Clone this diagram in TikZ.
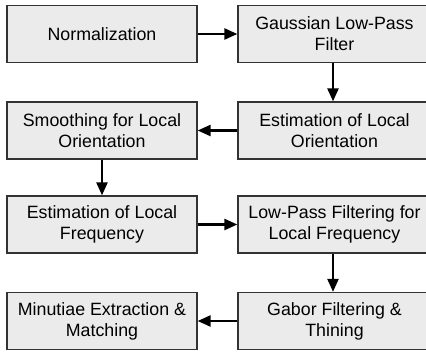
\documentclass[tikz,border=0pt]{standalone}
\usepackage{fontspec}
\setmainfont{Liberation Sans}
\usetikzlibrary{arrows.meta}
\begin{document}
\begin{tikzpicture}[x=1pt,y=1pt,
  stepbox/.style={draw=black!80, line width=1.3pt, fill=black!8, rectangle,
    minimum height=57pt, align=center, inner sep=0pt,
    font=\fontsize{17.8}{21}\selectfont},
  lbox/.style={stepbox, minimum width=190pt},
  rbox/.style={stepbox, minimum width=193pt},
  flow/.style={line width=2.4pt, -{Triangle[length=13pt,width=11pt]}}]
\useasboundingbox (0,0) rectangle (426,-352);
\node[lbox] (n1) at (102,-34) {Normalization};
\node[rbox] (n2) at (334.5,-34) {Gaussian Low-Pass\\Filter};
\node[rbox] (n3) at (334.5,-130.5) {Estimation of Local\\Orientation};
\node[lbox] (n4) at (102,-130.5) {Smoothing for Local\\Orientation};
\node[lbox] (n5) at (102,-224.5) {Estimation of Local\\Frequency};
\node[rbox] (n6) at (334.5,-224.5) {Low-Pass Filtering for\\Local Frequency};
\node[rbox] (n7) at (334.5,-321) {Gabor Filtering \&\\Thining};
\node[lbox] (n8) at (102,-321) {Minutiae Extraction \&\\Matching};
\draw[flow] (n1) -- (n2);
\draw[flow] (n2.south -| 333,0) -- (n3.north -| 333,0);
\draw[flow] (n3) -- (n4);
\draw[flow] (n4) -- (n5);
\draw[flow] (n5) -- (n6);
\draw[flow] (n6.south -| 333,0) -- (n7.north -| 333,0);
\draw[flow] (n7) -- (n8);
\end{tikzpicture}
\end{document}
